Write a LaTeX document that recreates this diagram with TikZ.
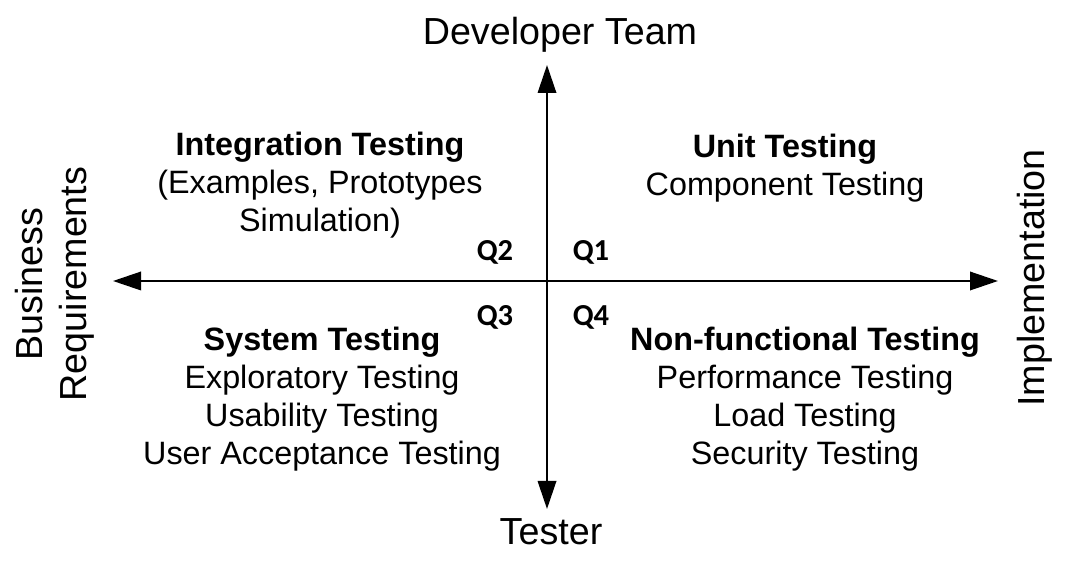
\documentclass[tikz,border=0pt]{standalone}
\usepackage{fontspec}
\setmainfont{Liberation Sans}
\newfontfamily\qfont{Carlito}
\usepackage{tikz}
\usepackage{tkz-euclide}
\usetikzlibrary{calc}
\usetikzlibrary{positioning}
\usetikzlibrary{arrows.meta}

\tikzset{
  axislabel/.style={font=\fontsize{26.8}{31}\selectfont, inner sep=0pt},
  quadtext/.style={font=\fontsize{23}{27}\selectfont, align=center, inner sep=0pt},
  qlabel/.style={font=\qfont\bfseries\fontsize{21.7}{26}\selectfont, inner sep=0pt},
}

\begin{document}
\begin{tikzpicture}[%
  >={Triangle[length=7mm,width=4.6mm]},
  scale=0.25
]

  \path[use as bounding box] (0,0) rectangle (107.2,57.3);

  \tkzDefPoint(54.7, 50.8){top}
  \tkzDefPoint(54.7, 6.4){bottom}
  \tkzDefPoint(11.3, 29.2){left}
  \tkzDefPoint(99.8, 29.2){right}

  \tkzDrawSegments[<->,line width=0.55mm](bottom,top left,right)

  \node[axislabel, anchor=base] (dev) at (56.0, 52.8) {Developer Team};
  \node[axislabel, anchor=base] (tester) at (55.1, 2.8) {Tester};
  \node[axislabel, rotate=90, align=center] (business) at (5.5, 28.9) {Business\\Requirements};
  \node[axislabel, rotate=90] (impl) at (103.5, 29.5) {Implementation};

  \node[qlabel, anchor=base] (q2) at (49.5, 31.2) {Q2};
  \node[qlabel, anchor=base] (q1) at (59.1, 31.2) {Q1};
  \node[qlabel, anchor=base] (q3) at (49.5, 24.7) {Q3};
  \node[qlabel, anchor=base] (q4) at (59.1, 24.7) {Q4};

  \node[quadtext, anchor=north] (q2text) at (32.0, 44.1)
    {\textbf{Integration Testing}\\(Examples, Prototypes\\Simulation)};
  \node[quadtext, anchor=north] (q1text) at (78.5, 43.9)
    {\textbf{Unit Testing}\\Component Testing};
  \node[quadtext, anchor=north] (q3text) at (32.2, 24.6)
    {\textbf{System Testing}\\Exploratory Testing\\Usability Testing\\User Acceptance Testing};
  \node[quadtext, anchor=north] (q4text) at (80.5, 24.6)
    {\textbf{Non-functional Testing}\\Performance Testing\\Load Testing\\Security Testing};

\end{tikzpicture}
\end{document}
